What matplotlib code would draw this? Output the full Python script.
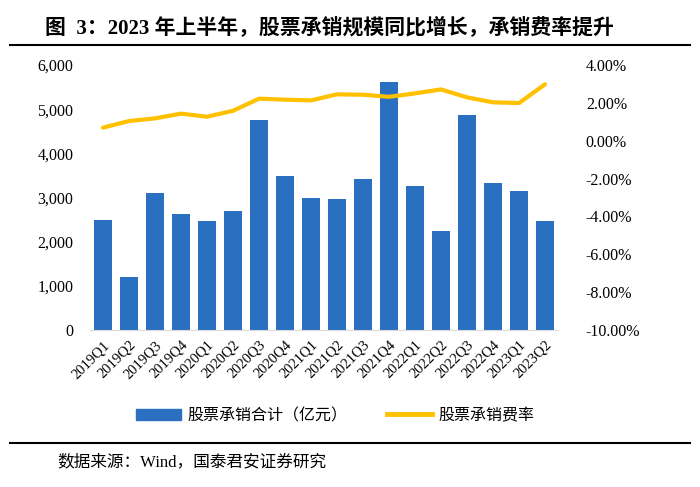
import matplotlib.pyplot as plt
from matplotlib.ticker import FuncFormatter
from matplotlib.lines import Line2D
from matplotlib.patches import Patch

plt.rcParams['font.family'] = ['Liberation Serif', 'Noto Sans CJK SC']

quarters = ['2019Q1', '2019Q2', '2019Q3', '2019Q4', '2020Q1', '2020Q2', '2020Q3', '2020Q4',
            '2021Q1', '2021Q2', '2021Q3', '2021Q4', '2022Q1', '2022Q2', '2022Q3', '2022Q4',
            '2023Q1', '2023Q2']
underwriting = [2490, 1200, 3110, 2630, 2475, 2690, 4755, 3490,
                2990, 2975, 3430, 5610, 3255, 2235, 4875, 3320, 3155, 2460]
fee_rate = [0.69, 1.04, 1.18, 1.43, 1.27, 1.58, 2.22, 2.17,
            2.13, 2.45, 2.43, 2.32, 2.50, 2.71, 2.29, 2.03, 1.99, 2.98]

blue = '#2A6FC0'
yellow = '#FFC000'

fig = plt.figure(figsize=(7, 4.87), dpi=100)
ax = fig.add_axes([90 / 700, 1 - 330 / 487, 468 / 700, 265 / 487])
x = range(len(quarters))
ax.bar(x, underwriting, width=0.66, color=blue, zorder=2)
ax.set_xlim(-0.5, len(quarters) - 0.5)
ax.set_ylim(0, 6000)
ax.set_yticks(range(0, 6001, 1000))
ax.yaxis.set_major_formatter(FuncFormatter(lambda v, p: f'{int(v):,}'))
ax.set_xticks(list(x))
ax.set_xticklabels(quarters, rotation=45, ha='right', rotation_mode='anchor', fontsize=10.5)
for s in ['top', 'right', 'left']:
    ax.spines[s].set_visible(False)
ax.spines['bottom'].set_color('#D9D9D9')
ax.tick_params(axis='both', length=0, labelsize=11.5)
ax.tick_params(axis='x', pad=6, labelsize=10.5)
ax.tick_params(axis='y', pad=12)

ax2 = ax.twinx()
ax2.plot(x, fee_rate, color=yellow, lw=3, solid_capstyle='round', zorder=3)
ax2.set_ylim(-10, 4)
ax2.set_yticks(range(-10, 5, 2))
ax2.yaxis.set_major_formatter(FuncFormatter(lambda v, p: f'{v:.2f}%'))
for s in ['top', 'right', 'left', 'bottom']:
    ax2.spines[s].set_visible(False)
ax2.tick_params(axis='y', length=0, labelsize=11.5, pad=20)

# title and rules
fig.text(45 / 700, 1 - 28 / 487, '图  3：2023 年上半年，股票承销规模同比增长，承销费率提升',
         fontsize=15, fontweight='bold', va='center', ha='left')
fig.add_artist(Line2D([10 / 700, 690 / 700], [1 - 45 / 487, 1 - 45 / 487], color='black', lw=1.5))
fig.add_artist(Line2D([10 / 700, 690 / 700], [1 - 443 / 487, 1 - 443 / 487], color='black', lw=1.5))
fig.text(57 / 700, 1 - 462 / 487, '数据来源：Wind，国泰君安证券研究', fontsize=12, va='center', ha='left')

handles = [Patch(color=blue, label='股票承销合计（亿元）'),
           Line2D([], [], color=yellow, lw=3.5, label='股票承销费率')]
fig.legend(handles=handles, loc='center', bbox_to_anchor=(335 / 700, 1 - 416 / 487), ncol=2,
           frameon=False, fontsize=11.5, handlelength=2.8, handleheight=0.7, columnspacing=2.5,
           handletextpad=0.4)

fig.savefig('out.png', dpi=100)
